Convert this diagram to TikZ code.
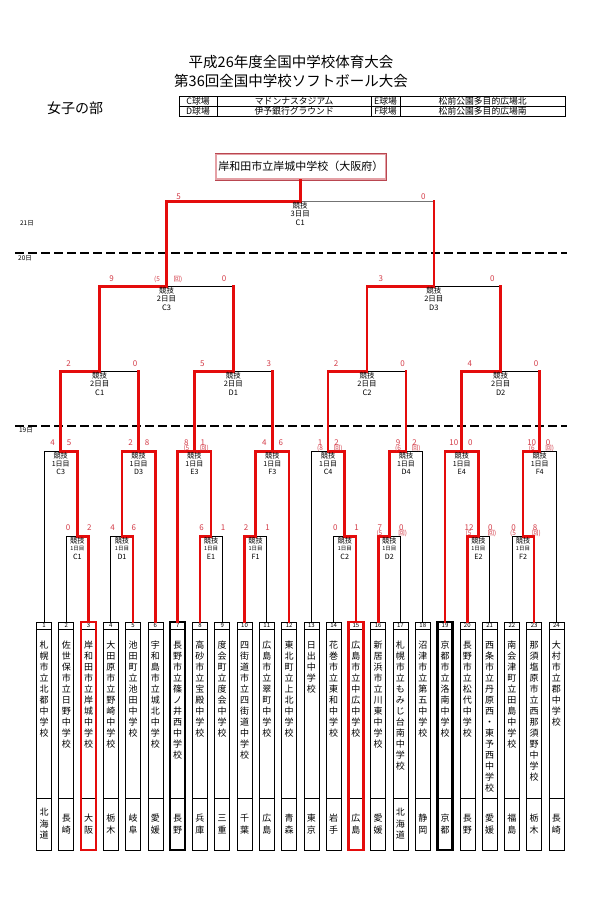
\documentclass[tikz,border=0pt]{standalone}
\usepackage{fontspec}
\setmainfont{Noto Sans CJK JP}
\usetikzlibrary{calc}
\definecolor{brk}{RGB}{228,12,12}
\definecolor{scr}{RGB}{212,60,72}
\definecolor{chd}{RGB}{185,70,80}
\definecolor{chl}{RGB}{228,160,165}
\makeatletter
\newcommand\vtchars[1]{\vt@loop#1\relax}
\def\vt@loop#1{\ifx\relax#1\else\hbox to 1.2em{\hss\rule{0pt}{7.4pt}#1\hss}\expandafter\vt@loop\fi}
\makeatother
\newcommand\mlab[5]{%
\node[inner sep=0pt,font=\fontsize{#5}{#5}\selectfont] (#1-k) at ($(#1)+(0,3.6)$) {競技};
\node[inner sep=0pt,font=\fontsize{#4}{#4}\selectfont] (#1-d) at ($(#1)+(0,12)$) {#2};
\node[inner sep=0pt,font=\fontsize{#5}{#5}\selectfont] (#1-c) at ($(#1)+(0,20.6)$) {#3};}
\begin{document}
\begin{tikzpicture}[x=1pt,y=-1pt,
  blk/.style={draw=black,line width=0.7pt},
  gry/.style={draw=black!55,line width=0.8pt},
  rd/.style={draw=brk,line width=2.6pt,line cap=rect},
  sc/.style={inner sep=0pt,text=scr,font=\fontsize{8}{8}\selectfont},
  inn/.style={inner sep=0pt,text=scr,font=\fontsize{6.5}{7}\selectfont},
  day/.style={inner sep=0pt,font=\fontsize{6.5}{7}\selectfont},
  tb/.style={inner sep=0pt,font=\fontsize{8.8}{9}\selectfont},
  dline/.style={draw=black,line width=1.9pt,dash pattern=on 9pt off 4pt}]
\fill[white] (0,0) rectangle (600,900);
\useasboundingbox (0,0) rectangle (600,900);

% titles
\node[font=\fontsize{14.5}{15}\selectfont] (title1) at (291,62.5) {平成26年度全国中学校体育大会};
\node[font=\fontsize{14.5}{15}\selectfont] (title2) at (291,80.5) {第36回全国中学校ソフトボール大会};
\node[font=\fontsize{14}{15}\selectfont] (div) at (75,108) {女子の部};

% venue table
\draw[blk,line width=0.6pt] (178.8,96.5) rectangle (565.4,116.5);
\draw[blk,line width=0.6pt] (178.8,106.5) -- (565.4,106.5);
\foreach \cx in {217.3,371,400} \draw[blk,line width=0.6pt] (\cx,96.5) -- (\cx,116.5);
\node[tb] (tc) at (198,101.5) {C球場};
\node[tb] (tm) at (294.2,101.5) {マドンナスタジアム};
\node[tb] (te) at (385.5,101.5) {E球場};
\node[tb] (tn) at (482.7,101.5) {松前公園多目的広場北};
\node[tb] (td) at (198,111.5) {D球場};
\node[tb] (ti) at (294.2,111.5) {伊予銀行グラウンド};
\node[tb] (tf) at (385.5,111.5) {F球場};
\node[tb] (ts) at (482.7,111.5) {松前公園多目的広場南};

% day separators
\draw[dline] (15,252.7) -- (567,252.7);
\draw[dline] (15,425.7) -- (567,425.7);
\node[day] (d21) at (27,223) {21日};
\node[day] (d20) at (25,258.5) {20日};
\node[day] (d19) at (26,430.7) {19日};

% team columns
\foreach \i/\nm/\pf in {1/札幌市立北都中学校/北海道,2/佐世保市立日野中学校/長崎,3/岸和田市立岸城中学校/大阪,4/大田原市立野崎中学校/栃木,5/池田町立池田中学校/岐阜,6/宇和島市立城北中学校/愛媛,7/長野市立篠ノ井西中学校/長野,8/高砂市立宝殿中学校/兵庫,9/度会町立度会中学校/三重,10/四街道市立四街道中学校/千葉,11/広島市立翠町中学校/広島,12/東北町立上北中学校/青森,13/日出中学校/東京,14/花巻市立東和中学校/岩手,15/広島市立中広中学校/広島,16/新居浜市立川東中学校/愛媛,17/札幌市立もみじ台南中学校/北海道,18/沼津市立第五中学校/静岡,19/京都市立洛南中学校/京都,20/長野市立松代中学校/長野,21/西条市立丹原西・東予西中学校/愛媛,22/南会津町立田島中学校/福島,23/那須塩原市立西那須野中学校/栃木,24/大村市立郡中学校/長崎}{
  \pgfmathsetmacro\tx{44+22.28*(\i-1)}
  \coordinate (t\i) at (\tx,622);
  \draw[blk,line width=0.6pt] (\tx-7.5,622) rectangle (\tx+7.5,850);
  \draw[blk,line width=0.6pt] (\tx-7.5,629) -- (\tx+7.5,629);
  \draw[blk,line width=0.6pt] (\tx-7.5,798) -- (\tx+7.5,798);
  \node[inner sep=0pt,font=\fontsize{6}{6}\selectfont] (k\i) at (\tx,625.6) {\i};
  \node[inner sep=0pt,anchor=north,font=\fontsize{9}{11}\selectfont] (n\i) at (\tx,641)
     {\vbox{\baselineskip=11pt\lineskiplimit=-20pt\lineskip=0pt\expandafter\vtchars\expandafter{\nm}}};
  \node[inner sep=0pt,font=\fontsize{9}{11}\selectfont] (p\i) at (\tx,824)
     {\vbox{\baselineskip=11.5pt\lineskiplimit=-20pt\lineskip=0pt\expandafter\vtchars\expandafter{\pf}}};
}
% highlighted teams
\draw[draw=brk,line width=2.4pt] ($(t3)+(-7.5,0)$) rectangle ($(t3)+(7.5,228)$);
\draw[draw=brk,line width=2.4pt] ($(t15)+(-7.5,0)$) rectangle ($(t15)+(7.5,228)$);
\draw[draw=black,line width=2.4pt] ($(t7)+(-7.5,0)$) rectangle ($(t7)+(7.5,228)$);
\draw[draw=black,line width=2.4pt] ($(t19)+(-7.5,0)$) rectangle ($(t19)+(7.5,228)$);

% match points
\coordinate (aC1) at (77.42,536.7);  \coordinate (aD1) at (121.98,536.7);
\coordinate (aE1) at (211.10,536.7); \coordinate (aF1) at (255.66,536.7);
\coordinate (aC2) at (344.78,536.7); \coordinate (aD2) at (389.34,536.7);
\coordinate (aE2) at (478.46,536.7); \coordinate (aF2) at (523.02,536.7);
\coordinate (bC3) at (60.71,451.7);  \coordinate (bD3) at (138.69,451.7);
\coordinate (bE3) at (194.39,451.7); \coordinate (bF3) at (272.37,451.7);
\coordinate (bC4) at (328.07,451.7); \coordinate (bD4) at (406.05,451.7);
\coordinate (bE4) at (461.75,451.7); \coordinate (bF4) at (539.73,451.7);
\coordinate (qC1) at (99.70,371.7);  \coordinate (qD1) at (233.38,371.7);
\coordinate (qC2) at (367.06,371.7); \coordinate (qD2) at (500.74,371.7);
\coordinate (sC3) at (166.54,286.7); \coordinate (sD3) at (433.90,286.7);
\coordinate (fC1) at (300.22,201.7);

% champion
\node[draw=chd,line width=0.9pt,fill=white,minimum width=171.7pt,minimum height=26.7pt,inner sep=0pt,
      font=\fontsize{11}{12}\selectfont] (champ) at (300.85,166.7) {岸和田市立岸城中学校（大阪府）};
\draw[draw=chl,line width=1.4pt] ($(champ.south west)+(1.6,-1.6)$) rectangle ($(champ.north east)+(-1.6,1.6)$);

% black skeleton
\draw[blk] (t2) |- (aC1) -| (t3);
\draw[blk] (t4) |- (aD1) -| (t5);
\draw[blk] (t8) |- (aE1) -| (t9);
\draw[blk] (t10) |- (aF1) -| (t11);
\draw[blk] (t14) |- (aC2) -| (t15);
\draw[blk] (t16) |- (aD2) -| (t17);
\draw[blk] (t20) |- (aE2) -| (t21);
\draw[blk] (t22) |- (aF2) -| (t23);
\draw[blk] (t1) |- (bC3) -| (aC1);
\draw[blk] (aD1) |- (bD3) -| (t6);
\draw[blk] (t7) |- (bE3) -| (aE1);
\draw[blk] (aF1) |- (bF3) -| (t12);
\draw[blk] (t13) |- (bC4) -| (aC2);
\draw[blk] (aD2) |- (bD4) -| (t18);
\draw[blk] (t19) |- (bE4) -| (aE2);
\draw[blk] (aF2) |- (bF4) -| (t24);
\draw[blk] (bC3) |- (qC1) -| (bD3);
\draw[blk] (bE3) |- (qD1) -| (bF3);
\draw[blk] (bC4) |- (qC2) -| (bD4);
\draw[blk] (bE4) |- (qD2) -| (bF4);
\draw[blk] (qC1) |- (sC3) -| (qD1);
\draw[blk] (qC2) |- (sD3) -| (qD2);
\draw[blk] (sC3) |- (fC1);
\draw[gry] (fC1) -| (sD3);

% winners' paths
\draw[rd] (t3) |- (aC1) -- (aC1 |- bC3) -- (bC3) -- (bC3 |- qC1) -- (qC1) -- (qC1 |- sC3) -- (sC3) -- (sC3 |- fC1) -- (fC1) -- (fC1 |- champ.south);
\draw[rd] (t5) |- (aD1) -- (aD1 |- bD3) -- (bD3);
\draw[rd] (t6) |- (bD3) -- (bD3 |- qC1);
\draw[rd] (t7) |- (bE3) -- (bE3 |- qD1) -- (qD1) -- (qD1 |- sC3);
\draw[rd] (t8) |- (aE1) -- (aE1 |- bE3) -- (bE3);
\draw[rd] (t10) |- (aF1) -- (aF1 |- bF3) -- (bF3);
\draw[rd] (t12) |- (bF3) -- (bF3 |- qD1);
\draw[rd] (t15) |- (aC2) -- (aC2 |- bC4) -- (bC4) -- (bC4 |- qC2) -- (qC2) -- (qC2 |- sD3) -- (sD3) -- (sD3 |- fC1);
\draw[rd] (t16) |- (aD2) -- (aD2 |- bD4) -- (bD4) -- (bD4 |- qC2);
\draw[rd] (t19) |- (bE4) -- (bE4 |- qD2) -- (qD2) -- (qD2 |- sD3);
\draw[rd] (t20) |- (aE2) -- (aE2 |- bE4) -- (bE4);
\draw[rd] (t23) |- (aF2) -- (aF2 |- bF4) -- (bF4) -- (bF4 |- qD2);

% match labels
\mlab{fC1}{3日目}{C1}{7.5}{7.5}
\mlab{sC3}{2日目}{C3}{7.5}{7.5}
\mlab{sD3}{2日目}{D3}{7.5}{7.5}
\mlab{qC1}{2日目}{C1}{7.5}{7.5}
\mlab{qD1}{2日目}{D1}{7.5}{7.5}
\mlab{qC2}{2日目}{C2}{7.5}{7.5}
\mlab{qD2}{2日目}{D2}{7.5}{7.5}
\mlab{bC3}{1日目}{C3}{7}{7.2}
\mlab{bD3}{1日目}{D3}{7}{7.2}
\mlab{bE3}{1日目}{E3}{7}{7.2}
\mlab{bF3}{1日目}{F3}{7}{7.2}
\mlab{bC4}{1日目}{C4}{7}{7.2}
\mlab{bD4}{1日目}{D4}{7}{7.2}
\mlab{bE4}{1日目}{E4}{7}{7.2}
\mlab{bF4}{1日目}{F4}{7}{7.2}
\mlab{aC1}{1日目}{C1}{5.5}{7.2}
\mlab{aD1}{1日目}{D1}{5.5}{7.2}
\mlab{aE1}{1日目}{E1}{5.5}{7.2}
\mlab{aF1}{1日目}{F1}{5.5}{7.2}
\mlab{aC2}{1日目}{C2}{5.5}{7.2}
\mlab{aD2}{1日目}{D2}{5.5}{7.2}
\mlab{aE2}{1日目}{E2}{5.5}{7.2}
\mlab{aF2}{1日目}{F2}{5.5}{7.2}

% scores: final
\node[sc] (s-f1) at (178.5,196.7) {5};
\node[sc] (s-f2) at (423.4,196.7) {0};
% semifinals
\node[sc] (s-s1) at (111.5,279) {9};
\node[inn] (s-s1a) at (157,279) {(5};
\node[inn] (s-s1b) at (178,279) {回)};
\node[sc] (s-s2) at (224,279) {0};
\node[sc] (s-s3) at (380.8,279) {3};
\node[sc] (s-s4) at (492.3,279) {0};
% quarterfinals
\node[sc] (s-q1) at (68.7,363.3) {2};
\node[sc] (s-q2) at (135.2,363.3) {0};
\node[sc] (s-q3) at (202.4,363.3) {5};
\node[sc] (s-q4) at (268.9,363.3) {3};
\node[sc] (s-q5) at (336.1,363.3) {2};
\node[sc] (s-q6) at (402.6,363.3) {0};
\node[sc] (s-q7) at (469.8,363.3) {4};
\node[sc] (s-q8) at (536.2,363.3) {0};
% first round, upper
\node[sc] (s-b1) at (52.7,442.5) {4};   \node[sc] (s-b2) at (69.2,442.5) {5};
\node[sc] (s-b3) at (130.7,442.5) {2};  \node[sc] (s-b4) at (147.2,442.5) {8};
\node[sc] (s-b5) at (186.4,442.5) {8};  \node[sc] (s-b6) at (202.9,442.5) {1};
\node[inn] (s-b5a) at (186.4,448.6) {(5}; \node[inn] (s-b6a) at (204.4,448.6) {回)};
\node[sc] (s-b7) at (264.4,442.5) {4};  \node[sc] (s-b8) at (280.9,442.5) {6};
\node[sc] (s-b9) at (320.1,442.5) {1};  \node[sc] (s-b10) at (336.6,442.5) {2};
\node[inn] (s-b9a) at (320.1,448.6) {(8}; \node[inn] (s-b10a) at (338.1,448.6) {回)};
\node[sc] (s-b11) at (398.1,442.5) {9}; \node[sc] (s-b12) at (414.6,442.5) {2};
\node[inn] (s-b11a) at (398.1,448.6) {(6}; \node[inn] (s-b12a) at (416.1,448.6) {回)};
\node[sc] (s-b13) at (453.8,442.5) {10}; \node[sc] (s-b14) at (470.3,442.5) {0};
\node[sc] (s-b15) at (531.7,442.5) {10}; \node[sc] (s-b16) at (548.2,442.5) {0};
\node[inn] (s-b15a) at (531.7,448.6) {(6}; \node[inn] (s-b16a) at (549.7,448.6) {回)};
% first round, lower
\node[sc] (s-a1) at (68,527.5) {0};     \node[sc] (s-a2) at (89.4,527.5) {2};
\node[sc] (s-a3) at (112.5,527.5) {4};  \node[sc] (s-a4) at (133.9,527.5) {6};
\node[sc] (s-a5) at (201.7,527.5) {6};  \node[sc] (s-a6) at (223,527.5) {1};
\node[sc] (s-a7) at (246.2,527.5) {2};  \node[sc] (s-a8) at (267.6,527.5) {1};
\node[sc] (s-a9) at (335.3,527.5) {0};  \node[sc] (s-a10) at (356.7,527.5) {1};
\node[sc] (s-a11) at (379.9,527.5) {7}; \node[sc] (s-a12) at (401.3,527.5) {0};
\node[inn] (s-a11a) at (379.4,533.6) {(5}; \node[inn] (s-a12a) at (402.8,533.6) {回)};
\node[sc] (s-a13) at (469,527.5) {12};  \node[sc] (s-a14) at (490.4,527.5) {0};
\node[inn] (s-a13a) at (468.5,533.6) {(5}; \node[inn] (s-a14a) at (491.9,533.6) {回)};
\node[sc] (s-a15) at (513.6,527.5) {0}; \node[sc] (s-a16) at (535,527.5) {8};
\node[inn] (s-a15a) at (513.1,533.6) {(5}; \node[inn] (s-a16a) at (536.5,533.6) {回)};
\end{tikzpicture}
\end{document}
